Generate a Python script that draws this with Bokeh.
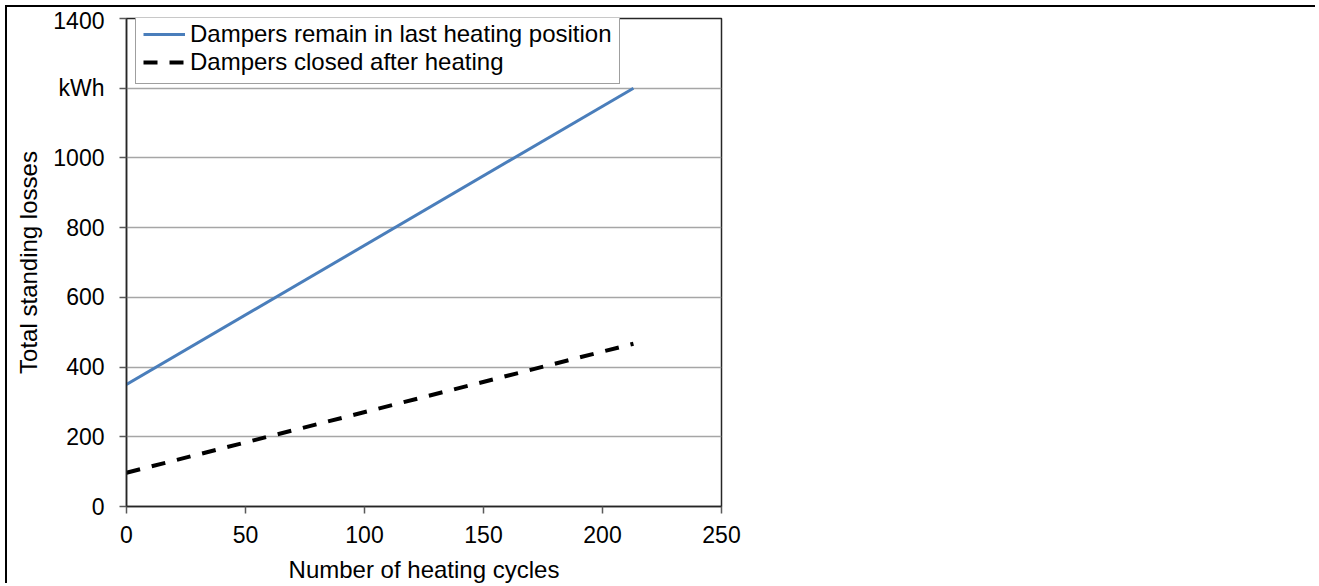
from bokeh.plotting import figure
from bokeh.models import Range1d, FixedTicker, Legend, LegendItem
from bokeh.embed import file_html
from bokeh.resources import INLINE

# ---- data ----
cycles = [0, 213]
dampers_remain = [350, 1200]
dampers_closed = [97, 467]
series_names = ["Dampers remain in last heating position", "Dampers closed after heating"]
x_ticks = [0, 50, 100, 150, 200, 250]
y_ticks = [0, 200, 400, 600, 800, 1000, 1200, 1400]
y_tick_labels = ["0", "200", "400", "600", "800", "1000", "kWh", "1400"]
x_title = "Number of heating cycles"
y_title = "Total standing losses"

FONT = "Liberation Sans"

p = figure(width=1310, height=578, output_backend="svg", toolbar_location=None,
           x_range=Range1d(0, 250), y_range=Range1d(0, 1400),
           min_border_left=119, min_border_right=596, min_border_top=11, min_border_bottom=79)
p.styles = {"margin-left": "5px", "margin-top": "5px",
            "border-left": "2px solid black", "border-top": "2px solid black"}

p.background_fill_color = "white"
p.border_fill_color = "white"
p.outline_line_color = "#262626"
p.outline_line_width = 1.5

# grid
p.xgrid.visible = False
p.ygrid.grid_line_color = "#a6a6a6"
p.ygrid.grid_line_width = 1.5
p.ygrid.ticker = FixedTicker(ticks=y_ticks)

# axes
for ax in (p.xaxis[0], p.yaxis[0]):
    ax.axis_line_color = "#262626"
    ax.axis_line_width = 1.5
    ax.major_tick_line_color = "#595959"
    ax.major_tick_line_width = 1.5
    ax.major_tick_in = 0
    ax.major_tick_out = 7
    ax.minor_tick_line_color = None
    ax.major_label_text_font = FONT
    ax.major_label_text_font_size = "23px"
    ax.major_label_text_color = "black"
    ax.axis_label_text_font = FONT
    ax.axis_label_text_font_size = "24px"
    ax.axis_label_text_font_style = "normal"
    ax.axis_label_text_color = "black"

p.xaxis[0].ticker = FixedTicker(ticks=x_ticks)
p.xaxis[0].major_label_standoff = 12
p.xaxis[0].axis_label = x_title
p.xaxis[0].axis_label_standoff = 10

p.yaxis[0].ticker = FixedTicker(ticks=y_ticks)
p.yaxis[0].major_label_overrides = {t: lab for t, lab in zip(y_ticks, y_tick_labels)}
p.yaxis[0].major_label_standoff = 15
p.yaxis[0].axis_label = y_title
p.yaxis[0].axis_label_standoff = 8

# series
r1 = p.line(cycles, dampers_remain, line_color="#4a7ebb", line_width=3)
r2 = p.line(cycles, dampers_closed, line_color="black", line_width=4, line_dash="14 12")

legend = Legend(items=[LegendItem(label=series_names[0], renderers=[r1]),
                       LegendItem(label=series_names[1], renderers=[r2])],
                location=(9, 422))
legend.label_text_font = FONT
legend.label_text_font_size = "24px"
legend.label_text_color = "black"
legend.border_line_color = "#404040"
legend.border_line_width = 1.5
legend.background_fill_color = "white"
legend.background_fill_alpha = 1
legend.glyph_width = 42
legend.glyph_height = 24
legend.label_height = 24
legend.label_standoff = 5
legend.padding = 7
legend.spacing = 0
legend.margin = 0
p.add_layout(legend, "center")

open("out.html", "w").write(file_html(p, INLINE))
